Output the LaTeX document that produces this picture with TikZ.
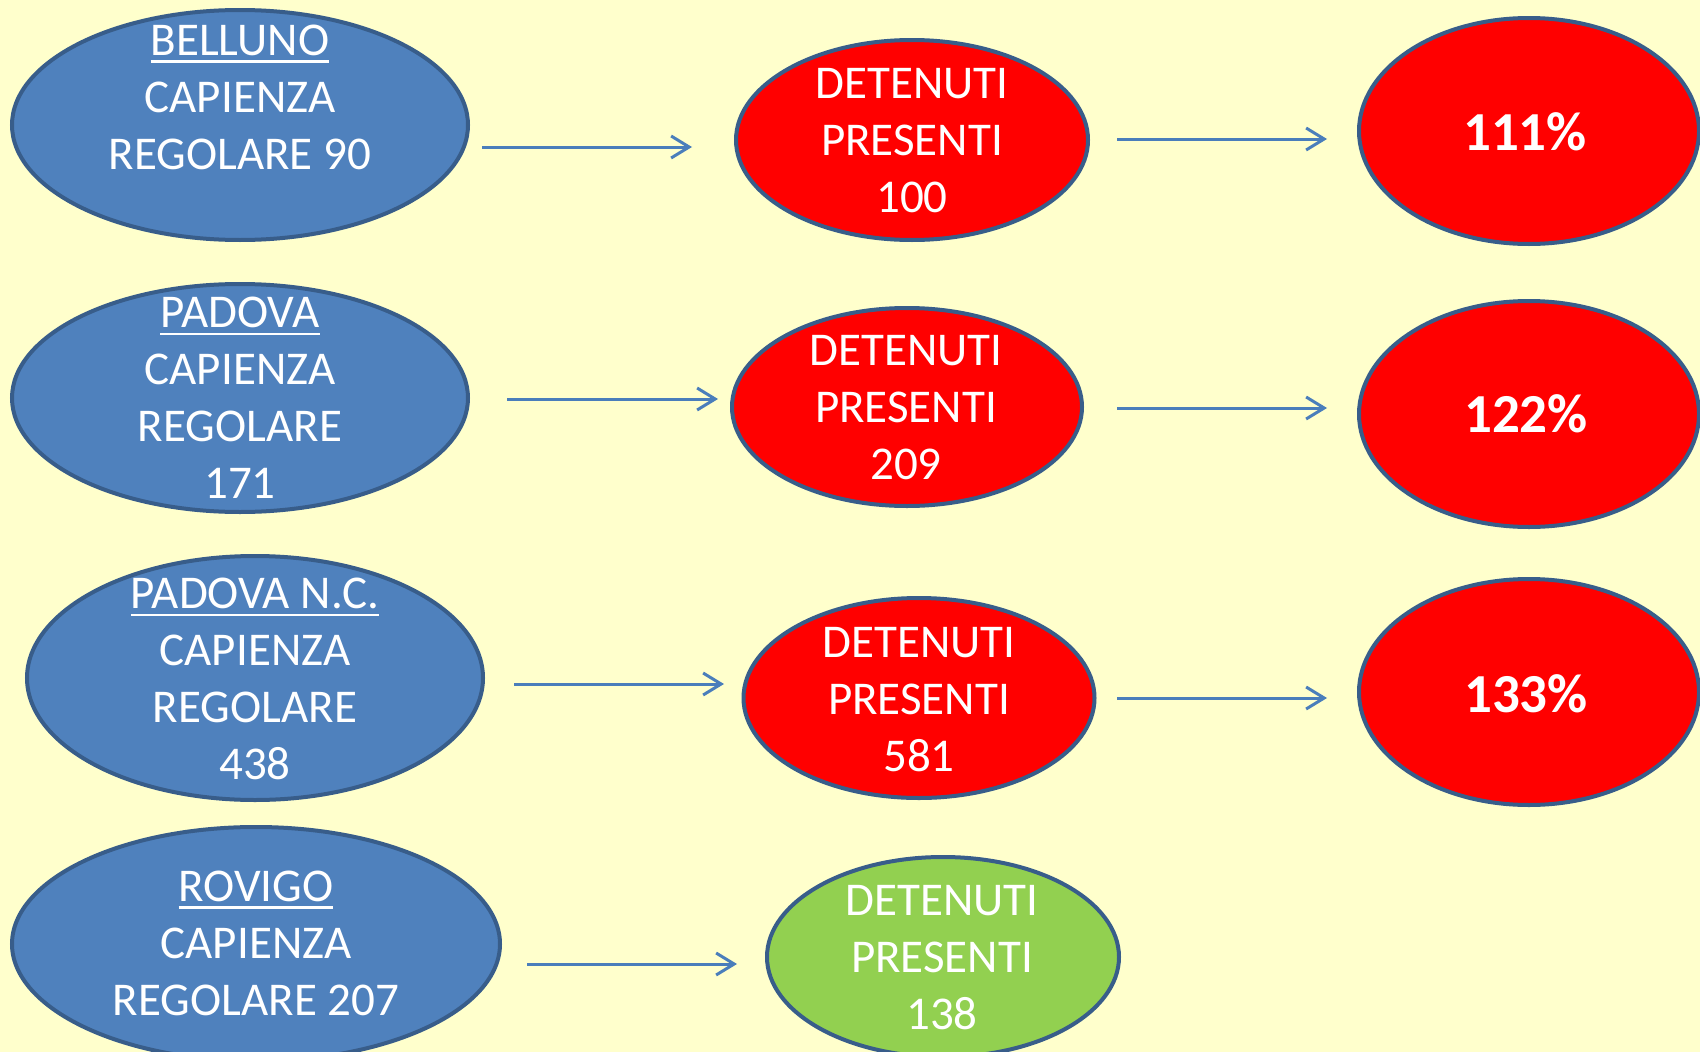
\documentclass[tikz,border=0pt]{standalone}
\usepackage{fontspec}
\setmainfont{Carlito}
\usetikzlibrary{shapes.geometric,arrows.meta}
\definecolor{bgc}{HTML}{FFFFCC}
\definecolor{cityfill}{HTML}{4F81BD}
\definecolor{edgec}{HTML}{385D8A}
\definecolor{redfill}{HTML}{FF0000}
\definecolor{greenfill}{HTML}{92D050}
\definecolor{arrowc}{HTML}{4A7EBB}
\newcommand\ulword[1]{\setbox0\hbox{#1}\rlap{\rule[-7.5pt]{\wd0}{2.5pt}}\box0}
\tikzset{
  ell/.style={ellipse, draw=edgec, line width=4pt, inner sep=0pt},
  cityell/.style={ell, fill=cityfill},
  redell/.style={ell, fill=redfill},
  greenell/.style={ell, fill=greenfill},
  txt/.style={text=white, align=center, inner sep=0pt, font=\fontsize{47}{57}\selectfont},
  pct/.style={text=white, align=center, inner sep=0pt, font=\fontsize{55}{60}\selectfont\bfseries},
  conn/.style={draw=arrowc, line width=3pt, -{Straight Barb[length=18pt,width=22pt,line width=3pt]}}
}
\begin{document}
\begin{tikzpicture}[x=1pt,y=-1pt]
\fill[bgc] (0,0) rectangle (1700,1052);
\useasboundingbox (0,0) rectangle (1700,1052);
\clip (0,0) rectangle (1700,1052);
% city ellipses
\node[cityell, minimum width=456pt, minimum height=230pt] (c1) at (240,125) {};
\node[cityell, minimum width=456pt, minimum height=228pt] (c2) at (240,398) {};
\node[cityell, minimum width=456pt, minimum height=244pt] (c3) at (255,678) {};
\node[cityell, minimum width=488pt, minimum height=234pt] (c4) at (256,944) {};
\node[txt] (t1) at (240,97) {\ulword{BELLUNO}\\CAPIENZA\\REGOLARE 90};
\node[txt] (t2) at (240,398) {\ulword{PADOVA}\\CAPIENZA\\REGOLARE\\171};
\node[txt] (t3) at (255,679) {\ulword{PADOVA N.C.}\\CAPIENZA\\REGOLARE\\438};
\node[txt] (t4) at (256,943) {\ulword{ROVIGO}\\CAPIENZA\\REGOLARE 207};
% detenuti ellipses
\node[redell, minimum width=352pt, minimum height=200pt] (r1) at (912,140) {};
\node[redell, minimum width=350pt, minimum height=198pt] (r2) at (907,407) {};
\node[redell, minimum width=351pt, minimum height=200pt] (r3) at (919,698) {};
\node[greenell, minimum width=352pt, minimum height=200pt] (r4) at (943,957) {};
\node[txt] (rt1) at (912,141) {DETENUTI\\PRESENTI\\100};
\node[txt] (rt2) at (906,408) {DETENUTI\\PRESENTI\\209};
\node[txt] (rt3) at (919,700) {DETENUTI\\PRESENTI\\581};
\node[txt] (rt4) at (942,958) {DETENUTI\\PRESENTI\\138};
% percentage ellipses
\node[redell, minimum width=340pt, minimum height=226pt] (q1) at (1529,131) {};
\node[redell, minimum width=340pt, minimum height=226pt] (q2) at (1529,414) {};
\node[redell, minimum width=340pt, minimum height=226pt] (q3) at (1529,692) {};
\node[pct] (qt1) at (1525,132) {111\%};
\node[pct] (qt2) at (1526,414) {122\%};
\node[pct] (qt3) at (1526,694) {133\%};
% arrow end points
\coordinate (a1s) at (482,147); \coordinate (a1e) at (692,147);
\coordinate (b1s) at (1117,139); \coordinate (b1e) at (1327,139);
\coordinate (a2s) at (507,399); \coordinate (a2e) at (718,399);
\coordinate (b2s) at (1117,408); \coordinate (b2e) at (1327,408);
\coordinate (a3s) at (514,684); \coordinate (a3e) at (724,684);
\coordinate (b3s) at (1117,698); \coordinate (b3e) at (1327,698);
\coordinate (a4s) at (527,964); \coordinate (a4e) at (737,964);
\draw[conn] (a1s) -- (a1e);
\draw[conn] (b1s) -- (b1e);
\draw[conn] (a2s) -- (a2e);
\draw[conn] (b2s) -- (b2e);
\draw[conn] (a3s) -- (a3e);
\draw[conn] (b3s) -- (b3e);
\draw[conn] (a4s) -- (a4e);
\end{tikzpicture}
\end{document}
